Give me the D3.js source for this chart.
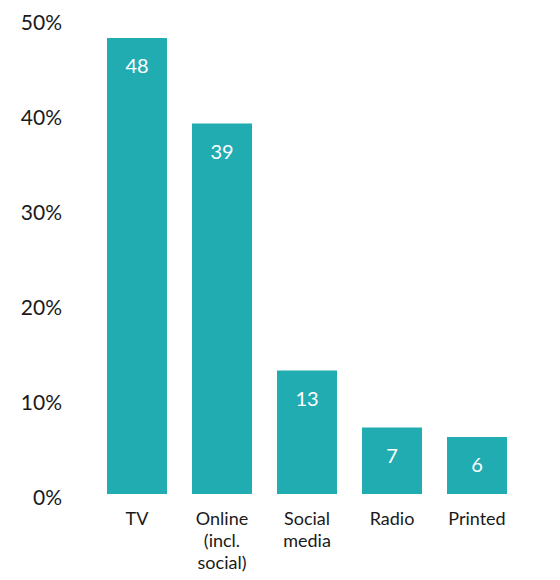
<!DOCTYPE html>
<html>
<head>
<meta charset="utf-8">
<script src="https://cdn.jsdelivr.net/npm/d3@7"></script>
<style>
  body { margin: 0; background: #fff; }
  text { font-family: Lato, "Open Sans", sans-serif; }
</style>
</head>
<body>
<script>
const categories = [["TV"], ["Online", "(incl.", "social)"], ["Social", "media"], ["Radio"], ["Printed"]];
const values = [48, 39, 13, 7, 6];
const yTicks = [0, 10, 20, 30, 40, 50];

const w = 560, h = 580;
const barColor = "#21acb2";

const svg = d3.select("body").append("svg")
  .attr("width", w)
  .attr("height", h);

const x = d3.scaleBand()
  .domain(d3.range(values.length))
  .range([94.5, 519.5])
  .paddingInner(25 / 85)
  .paddingOuter(12.5 / 85);

const y = d3.scaleLinear()
  .domain([0, 50])
  .range([494, 19]);

// y axis labels only, no line or ticks
const yAxis = svg.append("g")
  .attr("transform", "translate(62,0)")
  .call(d3.axisLeft(y).tickValues(yTicks).tickFormat(d => d + "%").tickSize(0).tickPadding(0));
yAxis.select(".domain").remove();
yAxis.selectAll("text")
  .attr("font-size", 21)
  .attr("font-family", "Lato, 'Open Sans', sans-serif")
  .attr("fill", "#1a1a1a")
  .attr("dy", "0.48em");

svg.selectAll("rect.bar")
  .data(values)
  .enter()
    .append("rect")
    .attr("class", "bar")
    .attr("x", (d, i) => x(i))
    .attr("y", d => y(d))
    .attr("width", x.bandwidth())
    .attr("height", d => y(0) - y(d))
    .attr("fill", barColor);

svg.selectAll("text.val")
  .data(values)
  .enter()
    .append("text")
    .attr("class", "val")
    .attr("x", (d, i) => x(i) + x.bandwidth() / 2)
    .attr("y", d => y(d) + 35)
    .attr("text-anchor", "middle")
    .attr("font-size", 20)
    .attr("fill", "#fff")
    .text(d => d);

const labels = svg.selectAll("text.cat")
  .data(categories)
  .enter()
    .append("text")
    .attr("class", "cat")
    .attr("text-anchor", "middle")
    .attr("font-size", 18)
    .attr("fill", "#1a1a1a");

labels.selectAll("tspan")
  .data((d, i) => d.map(line => ({ line, i })))
  .enter()
    .append("tspan")
    .attr("x", d => x(d.i) + x.bandwidth() / 2)
    .attr("y", (d, j) => 525 + j * 22)
    .text(d => d.line);
</script>
</body>
</html>
